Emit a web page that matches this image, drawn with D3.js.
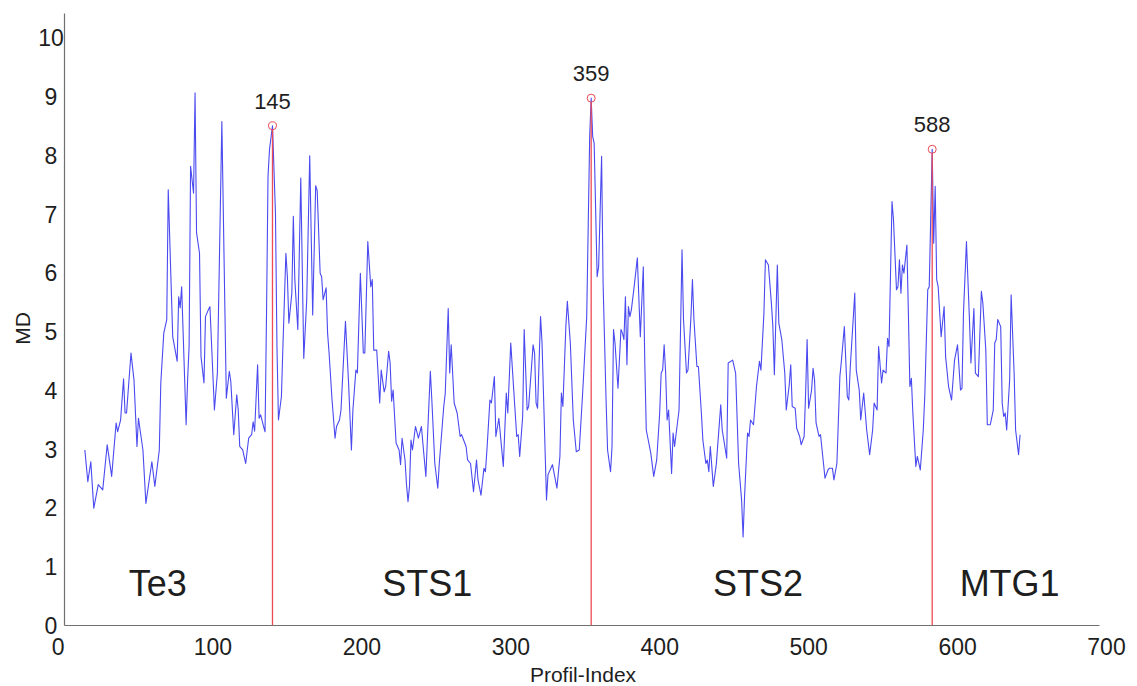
<!DOCTYPE html>
<html>
<head>
<meta charset="utf-8">
<script src="https://cdn.jsdelivr.net/npm/d3@7"></script>
<style>
  html, body { margin: 0; padding: 0; background: #fff; }
  svg text { font-family: "Liberation Sans", Arial, sans-serif; fill: #1e1e1e; }
</style>
</head>
<body>
<svg id="chart" width="1137" height="686"></svg>
<script>
// profile index / MD values
const profIdx = [
  19, 21, 23, 25, 28, 31, 34, 37, 40, 41, 43, 45, 46, 47, 50, 52, 54, 55, 58, 60,
  64, 66, 69, 70, 72, 74, 75, 78, 81, 82, 83, 84, 87, 88, 89, 90, 92, 93, 94, 96,
  97, 99, 100, 102, 103, 106, 108, 111, 114, 116, 117, 119, 121, 122, 123, 125, 127, 129, 131, 132,
  133, 135, 136, 137, 139, 140, 141, 142, 143, 145, 147, 148, 149, 151, 152, 154, 155, 156, 158, 159,
  160, 162, 164, 166, 168, 170, 172, 174, 175, 177, 178, 179, 181, 182, 183, 185, 187, 188, 190, 191,
  194, 196, 198, 199, 201, 202, 204, 206, 207, 209, 211, 212, 213, 215, 217, 218, 220, 221, 223, 224,
  225, 226, 228, 230, 231, 232, 234, 235, 236, 237, 238, 239, 241, 243, 245, 247, 248, 249, 251, 252,
  254, 256, 257, 260, 261, 263, 264, 265, 267, 269, 271, 272, 275, 276, 278, 280, 282, 283, 285, 287,
  288, 289, 291, 292, 294, 295, 297, 300, 302, 303, 305, 307, 309, 310, 311, 313, 314, 316, 317, 320,
  321, 322, 323, 325, 326, 329, 330, 333, 336, 338, 339, 340, 342, 343, 345, 347, 349, 351, 353, 354,
  356, 358, 359, 360, 361, 363, 364, 366, 367, 369, 370, 372, 373, 374, 375, 377, 379, 380, 381, 382,
  383, 384, 385, 386, 388, 390, 392, 394, 395, 396, 399, 401, 403, 405, 406, 407, 408, 409, 410, 411,
  413, 414, 415, 418, 420, 421, 423, 424, 426, 427, 428, 430, 431, 433, 434, 436, 437, 438, 439, 441,
  443, 446, 447, 450, 451, 454, 456, 458, 460, 461, 462, 464, 465, 466, 468, 470, 472, 473, 475, 476,
  478, 480, 481, 482, 484, 485, 487, 489, 490, 492, 493, 494, 496, 497, 499, 500, 502, 503, 504, 505,
  507, 508, 509, 510, 512, 513, 515, 516, 518, 519, 521, 522, 524, 526, 527, 529, 531, 532, 533, 536,
  537, 539, 540, 542, 544, 546, 548, 549, 551, 552, 554, 555, 557, 558, 559, 561, 562, 564, 565, 566,
  567, 568, 569, 571, 572, 573, 574, 575, 577, 578, 580, 582, 583, 585, 586, 588, 589, 590, 591, 592,
  594, 596, 597, 599, 601, 603, 605, 607, 608, 609, 611, 613, 614, 616, 617, 619, 621, 622, 624, 625,
  627, 629, 630, 631, 632, 634, 635, 636, 637, 638, 640, 641, 643, 644, 646, 647
]
const mdValues = [
  2.98, 2.44, 2.78, 1.99, 2.39, 2.30, 3.07, 2.53, 3.44, 3.29, 3.49, 4.19, 3.61, 3.61, 4.63, 4.17, 3.04, 3.52, 2.98, 2.07,
  2.78, 2.36, 2.98, 4.12, 4.97, 5.20, 7.41, 4.91, 4.49, 5.59, 5.40, 5.76, 3.41, 4.17, 4.74, 7.81, 7.35, 9.06, 6.68, 6.33,
  4.57, 4.12, 5.25, 5.37, 5.42, 3.66, 4.29, 8.57, 3.86, 4.32, 4.15, 3.24, 3.92, 3.66, 3.04, 2.98, 2.75, 3.18, 3.24, 3.46,
  3.30, 4.43, 3.52, 3.58, 3.38, 3.29, 5.31, 7.64, 8.10, 8.50, 7.01, 4.74, 3.49, 3.89, 4.74, 6.33, 5.93, 5.14, 5.65, 6.96,
  5.88, 5.03, 7.61, 4.54, 5.54, 7.99, 5.28, 7.48, 7.40, 5.99, 5.93, 5.54, 5.74, 4.97, 4.63, 3.83, 3.18, 3.38, 3.49, 3.66,
  5.17, 4.17, 2.98, 3.66, 4.34, 4.29, 5.99, 4.63, 4.63, 6.53, 5.76, 5.88, 4.68, 4.68, 3.78, 4.34, 3.97, 4.06, 4.66, 4.46,
  3.81, 4.00, 3.10, 2.98, 2.73, 3.18, 2.81, 2.39, 2.10, 2.36, 3.15, 2.98, 3.38, 3.18, 3.38, 2.81, 2.53, 3.15, 4.32, 3.83,
  2.75, 2.33, 2.75, 3.72, 3.94, 5.39, 4.29, 4.77, 3.78, 3.61, 3.21, 3.24, 3.04, 2.81, 2.75, 2.27, 2.81, 2.47, 2.21, 2.67,
  2.61, 2.98, 3.83, 3.78, 4.23, 3.21, 3.52, 2.70, 3.95, 3.61, 4.80, 4.00, 3.21, 3.24, 2.87, 3.55, 5.03, 3.66, 3.72, 4.77,
  4.63, 3.78, 3.69, 5.25, 4.80, 2.13, 2.56, 2.73, 2.33, 2.87, 3.95, 3.72, 5.08, 5.51, 4.80, 3.49, 2.95, 2.98, 3.83, 4.29,
  5.25, 8.32, 8.97, 8.32, 8.20, 5.93, 6.10, 7.98, 5.82, 3.83, 2.98, 2.61, 3.04, 5.03, 4.80, 4.03, 5.03, 4.97, 4.86, 5.59,
  4.43, 5.42, 5.25, 5.37, 5.79, 6.25, 4.91, 6.10, 4.46, 3.32, 2.93, 2.53, 2.81, 3.61, 4.29, 4.34, 4.77, 4.29, 3.49, 3.66,
  2.58, 3.27, 3.04, 3.66, 6.39, 5.20, 4.29, 4.34, 5.25, 5.88, 5.20, 4.40, 4.40, 3.61, 3.15, 2.75, 2.81, 2.61, 3.04, 2.36,
  2.73, 3.75, 3.32, 2.84, 4.46, 4.51, 4.29, 2.75, 2.13, 1.50, 2.19, 3.27, 3.21, 3.49, 3.41, 4.06, 4.49, 4.34, 5.31, 6.22,
  6.13, 5.48, 5.08, 4.26, 6.13, 5.14, 4.86, 4.29, 3.66, 4.09, 4.43, 3.72, 3.69, 3.35, 3.21, 3.07, 3.21, 3.95, 4.86, 3.69,
  4.00, 4.37, 4.17, 3.44, 3.21, 3.24, 2.75, 2.50, 2.64, 2.67, 2.67, 2.47, 2.75, 4.23, 4.49, 5.08, 3.89, 3.83, 4.40, 5.65,
  4.34, 4.00, 3.49, 3.95, 3.32, 2.90, 3.32, 3.78, 3.66, 4.74, 4.12, 4.34, 4.29, 4.88, 4.74, 7.21, 6.90, 5.71, 5.76, 6.22,
  5.65, 6.13, 5.99, 6.47, 5.31, 4.06, 4.20, 3.61, 2.70, 2.87, 2.64, 3.32, 3.89, 5.71, 5.76, 8.10, 6.50, 7.47, 5.88, 5.76,
  4.91, 5.42, 4.57, 4.06, 3.83, 4.51, 4.77, 4.00, 4.03, 5.31, 6.53, 5.20, 4.46, 5.39, 4.29, 4.23, 5.68, 5.48, 4.68, 3.41,
  3.41, 3.66, 4.80, 4.86, 5.20, 5.08, 3.78, 3.55, 3.61, 3.32, 4.17, 5.62, 4.29, 3.32, 2.90, 3.24
]

const peakIdx = [145, 359, 588]
const peakMd = [8.5, 8.97, 8.1]
const peakLabels = ["145", "359", "588"]

const regionNames = ["Te3", "STS1", "STS2", "MTG1"]
const regionIdx = [68, 249, 471, 640]

const xTicks = [0, 100, 200, 300, 400, 500, 600, 700]
const yTicks = [0, 1, 2, 3, 4, 5, 6, 7, 8, 9, 10]

const svg = d3.select("#chart")

const x = d3.scaleLinear().domain([5, 700]).range([64, 1099])
const y = d3.scaleLinear().domain([0, 10.42]).range([625, 13])

const data = profIdx.map((d, i) => ({ idx: d, md: mdValues[i] }))

// axes
const xAxis = g => g
  .attr("transform", `translate(0, ${y(0)})`)
  .call(d3.axisBottom(x).tickValues(xTicks).tickSize(0).tickPadding(0))
  .call(g => g.select(".domain").attr("stroke", "#707070").attr("stroke-width", 1.2))
  .call(g => g.selectAll(".tick text")
    .attr("font-size", 23).attr("dx", d => d === 0 ? 1 : 7).attr("dy", 0).attr("y", 30)
    .attr("fill", "#1e1e1e"))

const yAxis = g => g
  .attr("transform", `translate(${x(5)}, 0)`)
  .call(d3.axisLeft(y).tickValues(yTicks).tickSize(0).tickPadding(0))
  .call(g => g.select(".domain").attr("stroke", "#707070").attr("stroke-width", 1.2))
  .call(g => g.selectAll(".tick text")
    .attr("font-size", 23).attr("text-anchor", "middle").attr("x", -13).attr("dy", "0.36em")
    .attr("fill", "#1e1e1e"))

svg.append("g").call(xAxis)
svg.append("g").call(yAxis)

// region labels
svg.append("g")
  .selectAll("text")
  .data(regionNames)
  .join("text")
    .attr("x", (d, i) => x(regionIdx[i]))
    .attr("y", y(0.5))
    .attr("text-anchor", "middle")
    .attr("font-size", 36)
    .text(d => d)

// profile line
svg.append("path")
  .datum(data)
  .attr("fill", "none")
  .attr("stroke", "#4a4af0")
  .attr("stroke-width", 1.1)
  .attr("stroke-linejoin", "round")
  .attr("d", d3.line().x(d => x(d.idx)).y(d => y(d.md)))

// boundary markers
const peaks = svg.append("g")
peaks.selectAll("line")
  .data(peakIdx)
  .join("line")
    .attr("x1", d => x(d)).attr("x2", d => x(d))
    .attr("y1", (d, i) => y(peakMd[i]) + 4)
    .attr("y2", y(0))
    .attr("stroke", "#ee4a55")
    .attr("stroke-width", 1.3)
peaks.selectAll("circle")
  .data(peakIdx)
  .join("circle")
    .attr("cx", d => x(d))
    .attr("cy", (d, i) => y(peakMd[i]))
    .attr("r", 4)
    .attr("fill", "none")
    .attr("stroke", "#e84a55")
    .attr("stroke-width", 1)
peaks.selectAll("text")
  .data(peakLabels)
  .join("text")
    .attr("x", (d, i) => x(peakIdx[i]))
    .attr("y", (d, i) => y(peakMd[i]) - 17)
    .attr("text-anchor", "middle")
    .attr("font-size", 22)
    .text(d => d)

// axis titles
svg.append("text")
  .attr("x", 583).attr("y", 682)
  .attr("text-anchor", "middle")
  .attr("font-size", 21)
  .text("Profil-Index")

svg.append("text")
  .attr("transform", `translate(30, ${y(5.05)}) rotate(-90)`)
  .attr("text-anchor", "middle")
  .attr("font-size", 21)
  .text("MD")
</script>
</body>
</html>
